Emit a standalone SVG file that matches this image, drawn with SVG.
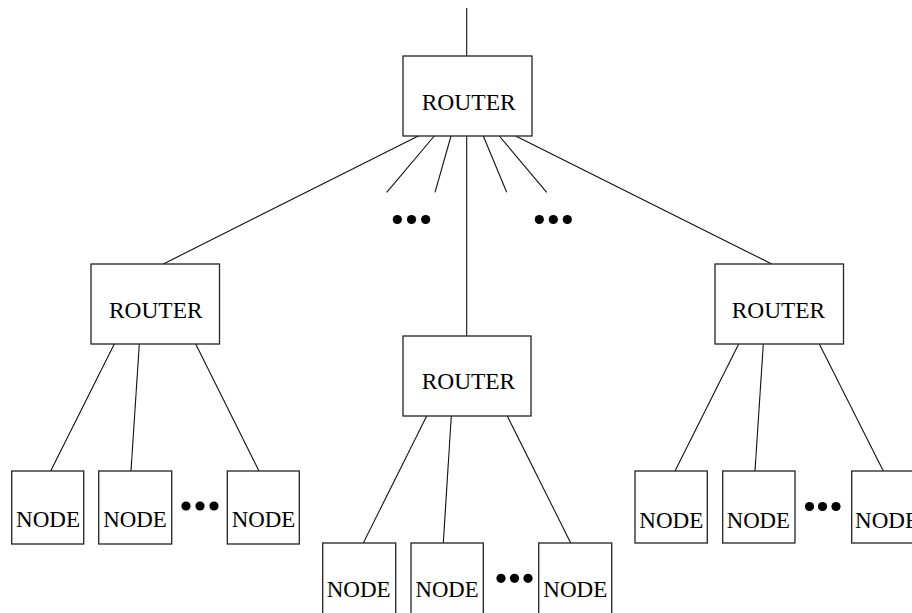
<svg xmlns="http://www.w3.org/2000/svg" width="912" height="613" viewBox="0 0 912 613">
<style>
.box{fill:#fff;stroke:#222;stroke-width:1.3}
.ln{stroke:#111;stroke-width:1.1;fill:none}
text{font-family:'Liberation Serif','DejaVu Serif',serif;font-size:23px;fill:#000}
.dot{fill:#000}
</style>
<rect width="912" height="613" fill="#fff"/>
<g id="connectors">
<line class="ln" x1="466.7" y1="8" x2="466.7" y2="56"/>
<line class="ln" x1="418.3" y1="136" x2="163.3" y2="264"/>
<line class="ln" x1="434.3" y1="136" x2="386.7" y2="192.3"/>
<line class="ln" x1="451" y1="136" x2="435" y2="192.3"/>
<line class="ln" x1="466.7" y1="136" x2="466.7" y2="336"/>
<line class="ln" x1="483.3" y1="136" x2="506.7" y2="192.3"/>
<line class="ln" x1="499.3" y1="136" x2="546.7" y2="192.3"/>
<line class="ln" x1="515.7" y1="136" x2="771.7" y2="264"/>
<line class="ln" x1="114.3" y1="344" x2="50.7" y2="471"/>
<line class="ln" x1="139.3" y1="344" x2="131" y2="471"/>
<line class="ln" x1="195.7" y1="344" x2="259" y2="471"/>
<line class="ln" x1="426.7" y1="416" x2="363.3" y2="543"/>
<line class="ln" x1="451.3" y1="416" x2="443.3" y2="543"/>
<line class="ln" x1="507.3" y1="416" x2="570.7" y2="543"/>
<line class="ln" x1="738.7" y1="344" x2="675" y2="471"/>
<line class="ln" x1="763.3" y1="344" x2="755" y2="471"/>
<line class="ln" x1="819.3" y1="344" x2="883.3" y2="471"/>
</g>
<g id="ellipses">
<circle class="dot" cx="397.3" cy="219.5" r="4.6"/><circle class="dot" cx="411.5" cy="219.5" r="4.6"/><circle class="dot" cx="425.7" cy="219.5" r="4.6"/>
<circle class="dot" cx="539.3" cy="219.5" r="4.6"/><circle class="dot" cx="553.3" cy="219.5" r="4.6"/><circle class="dot" cx="567.3" cy="219.5" r="4.6"/>
<circle class="dot" cx="186" cy="506" r="4.6"/><circle class="dot" cx="200" cy="506" r="4.6"/><circle class="dot" cx="214" cy="506" r="4.6"/>
<circle class="dot" cx="501" cy="578.3" r="4.6"/><circle class="dot" cx="514.5" cy="578.3" r="4.6"/><circle class="dot" cx="528" cy="578.3" r="4.6"/>
<circle class="dot" cx="809.5" cy="506.5" r="4.6"/><circle class="dot" cx="822.5" cy="506.5" r="4.6"/><circle class="dot" cx="836" cy="506.5" r="4.6"/>
</g>
<g id="router-top"><rect class="box" x="403" y="56" width="129" height="80"/><text x="421.7" y="110" textLength="94" lengthAdjust="spacingAndGlyphs">ROUTER</text></g>
<g id="router-left"><rect class="box" x="91" y="264" width="128.5" height="80"/><text x="109" y="317.7" textLength="93.5" lengthAdjust="spacingAndGlyphs">ROUTER</text></g>
<g id="router-mid"><rect class="box" x="403" y="336" width="128" height="80"/><text x="421.7" y="389" textLength="93.5" lengthAdjust="spacingAndGlyphs">ROUTER</text></g>
<g id="router-right"><rect class="box" x="715" y="264" width="128.5" height="80"/><text x="731.7" y="317.7" textLength="93.5" lengthAdjust="spacingAndGlyphs">ROUTER</text></g>
<g id="node-l1"><rect class="box" x="11.7" y="471" width="72" height="73"/><text x="16" y="526.5" textLength="64" lengthAdjust="spacingAndGlyphs">NODE</text></g>
<g id="node-l2"><rect class="box" x="98.7" y="471" width="73" height="73"/><text x="103.3" y="526.5" textLength="63.5" lengthAdjust="spacingAndGlyphs">NODE</text></g>
<g id="node-l3"><rect class="box" x="227.3" y="471" width="72" height="73"/><text x="231.7" y="526.5" textLength="63.5" lengthAdjust="spacingAndGlyphs">NODE</text></g>
<g id="node-m1"><rect class="box" x="322.7" y="543" width="73" height="73"/><text x="326.7" y="597" textLength="64" lengthAdjust="spacingAndGlyphs">NODE</text></g>
<g id="node-m2"><rect class="box" x="411" y="543" width="72.3" height="73"/><text x="415.5" y="597" textLength="63" lengthAdjust="spacingAndGlyphs">NODE</text></g>
<g id="node-m3"><rect class="box" x="538.7" y="543" width="73" height="73"/><text x="543.3" y="597" textLength="64" lengthAdjust="spacingAndGlyphs">NODE</text></g>
<g id="node-r1"><rect class="box" x="635" y="471" width="72.3" height="72"/><text x="639.3" y="527.5" textLength="64" lengthAdjust="spacingAndGlyphs">NODE</text></g>
<g id="node-r2"><rect class="box" x="722.7" y="471" width="72.3" height="72"/><text x="726.7" y="527.5" textLength="63.3" lengthAdjust="spacingAndGlyphs">NODE</text></g>
<g id="node-r3"><rect class="box" x="851.7" y="471" width="73" height="72"/><text x="855" y="527.5" textLength="64" lengthAdjust="spacingAndGlyphs">NODE</text></g>
</svg>
